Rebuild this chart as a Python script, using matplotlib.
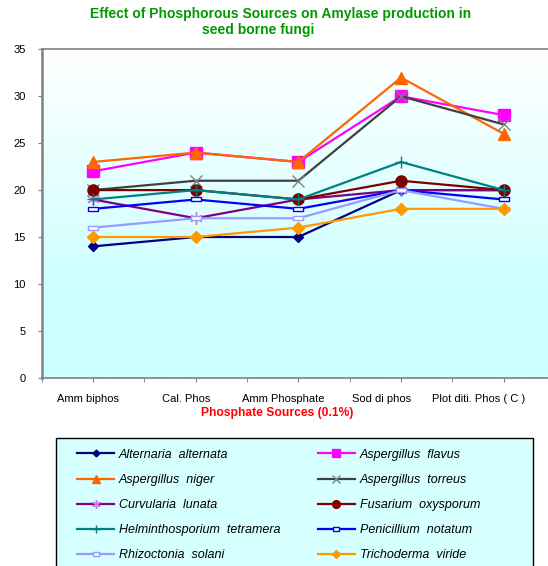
import numpy as np
import matplotlib
matplotlib.use("Agg")
import matplotlib.pyplot as plt
from matplotlib.colors import LinearSegmentedColormap
from matplotlib.patches import Rectangle
from matplotlib.transforms import ScaledTranslation

plt.rcParams['font.family'] = ['Liberation Sans', 'DejaVu Sans']

sources = ["Amm biphos", "Cal. Phos", "Amm Phosphate", "Sod di phos", "Plot diti. Phos ( C )"]

alternaria = [14, 15, 15, 20, 20]
flavus = [22, 24, 23, 30, 28]
niger = [23, 24, 23, 32, 26]
torreus = [20, 21, 21, 30, 27]
curvularia = [19, 17, 19, 20, 20]
fusarium = [20, 20, 19, 21, 20]
helmintho = [19, 20, 19, 23, 20]
penicillium = [18, 19, 18, 20, 19]
rhizoctonia = [16, 17, 17, 20, 18]
trichoderma = [15, 15, 16, 18, 18]

names = ["Alternaria  alternata", "Aspergillus  flavus", "Aspergillus  niger",
         "Aspergillus  torreus", "Curvularia  lunata", "Fusarium  oxysporum",
         "Helminthosporium  tetramera", "Penicillium  notatum", "Rhizoctonia  solani",
         "Trichoderma  viride"]
series = [alternaria, flavus, niger, torreus, curvularia, fusarium,
          helmintho, penicillium, rhizoctonia, trichoderma]

dash = [(-1, -0.45), (1, -0.45), (1, 0.45), (-1, 0.45), (-1, -0.45)]
styles = [
    dict(color="#000080", marker="D", ms=5),
    dict(color="#FF00FF", marker="s", ms=8),
    dict(color="#FF6600", marker="^", ms=8),
    dict(color="#404040", marker="x", ms=9, mec="#808080", mew=1),
    dict(color="#800080", marker=(6, 2, 0), ms=9, mec="#C080E0", mew=1),
    dict(color="#800000", marker="o", ms=8),
    dict(color="#008080", marker="+", ms=9, mew=1),
    dict(color="#0000FF", marker=dash, ms=7, mfc="white", mew=1),
    dict(color="#9999FF", marker=dash, ms=7, mfc="white", mew=1),
    dict(color="#FF9900", marker="D", ms=6),
]

fig = plt.figure(figsize=(5.48, 5.66), dpi=100)
W, H = 548, 566
ax = fig.add_axes([41.7 / W, (H - 377.7) / H, (555 - 41.7) / W, (377.7 - 49.4) / H])

cmap = LinearSegmentedColormap.from_list("bg", [(0, "#FFFFFF"), (0.75, "#CCFFFF"), (1, "#CCFFFF")])
ax.imshow(np.linspace(0, 1, 256).reshape(-1, 1), cmap=cmap, aspect="auto",
          extent=[-0.5, 4.5, 0, 35], zorder=0)

x = np.arange(len(sources))
handles = []
for name, vals, st in zip(names, series, styles):
    h, = ax.plot(x, vals, lw=1.6, label=name, zorder=3, **st)
    handles.append(h)

ax.set_xlim(-0.5, 4.5)
ax.set_ylim(0, 35)
ax.set_yticks(np.arange(0, 36, 5))
ax.set_xticks(x)
ax.set_xticklabels(sources)
ax.set_xticks(np.arange(-0.5, 4.6, 1.0), minor=True)
ax.tick_params(axis="both", which="both", direction="out", length=3, color="#808080",
               labelsize=8, pad=8.5)
# the original's category labels drift a little left of their ticks
for i, lbl in enumerate(ax.get_xticklabels()):
    lbl.set_transform(lbl.get_transform() +
                      ScaledTranslation(-(5 + 4.9 * i) / 100, 0, fig.dpi_scale_trans))
for side in ["left", "bottom", "top"]:
    ax.spines[side].set_color("#808080")
ax.spines["left"].set_linewidth(1.8)
ax.spines["bottom"].set_linewidth(1.2)
ax.spines["top"].set_linewidth(1.2)
ax.spines["right"].set_visible(False)

fig.text(281 / W, 1 - 14 / H, "Effect of Phosphorous Sources on Amylase production in",
         ha="center", va="center", color="#009900", fontsize=10, fontweight="bold")
fig.text(258 / W, 1 - 30 / H, "seed borne fungi",
         ha="center", va="center", color="#009900", fontsize=10, fontweight="bold")
fig.text(277 / W, 1 - 413 / H, "Phosphate Sources (0.1%)",
         ha="center", va="center", color="#FF0000", fontsize=8.7, fontweight="bold")

fig.patches.append(Rectangle((56 / W, -0.02), (533 - 56) / W, (H - 438) / H + 0.02,
                             transform=fig.transFigure, facecolor="#D6FFFF",
                             edgecolor="black", lw=1.0, zorder=0))
order = handles[0::2] + handles[1::2]
leg = fig.legend(handles=order, labels=[h.get_label() for h in order], ncol=2,
                 loc="upper left", bbox_to_anchor=(68 / W, 1 - 440 / H),
                 frameon=False, prop=dict(style="italic", size=9), markerscale=0.7,
                 handlelength=3.0, handletextpad=0.35, labelspacing=1.05,
                 columnspacing=3.0, borderpad=0.2)

fig.savefig("out.png", dpi=100)
